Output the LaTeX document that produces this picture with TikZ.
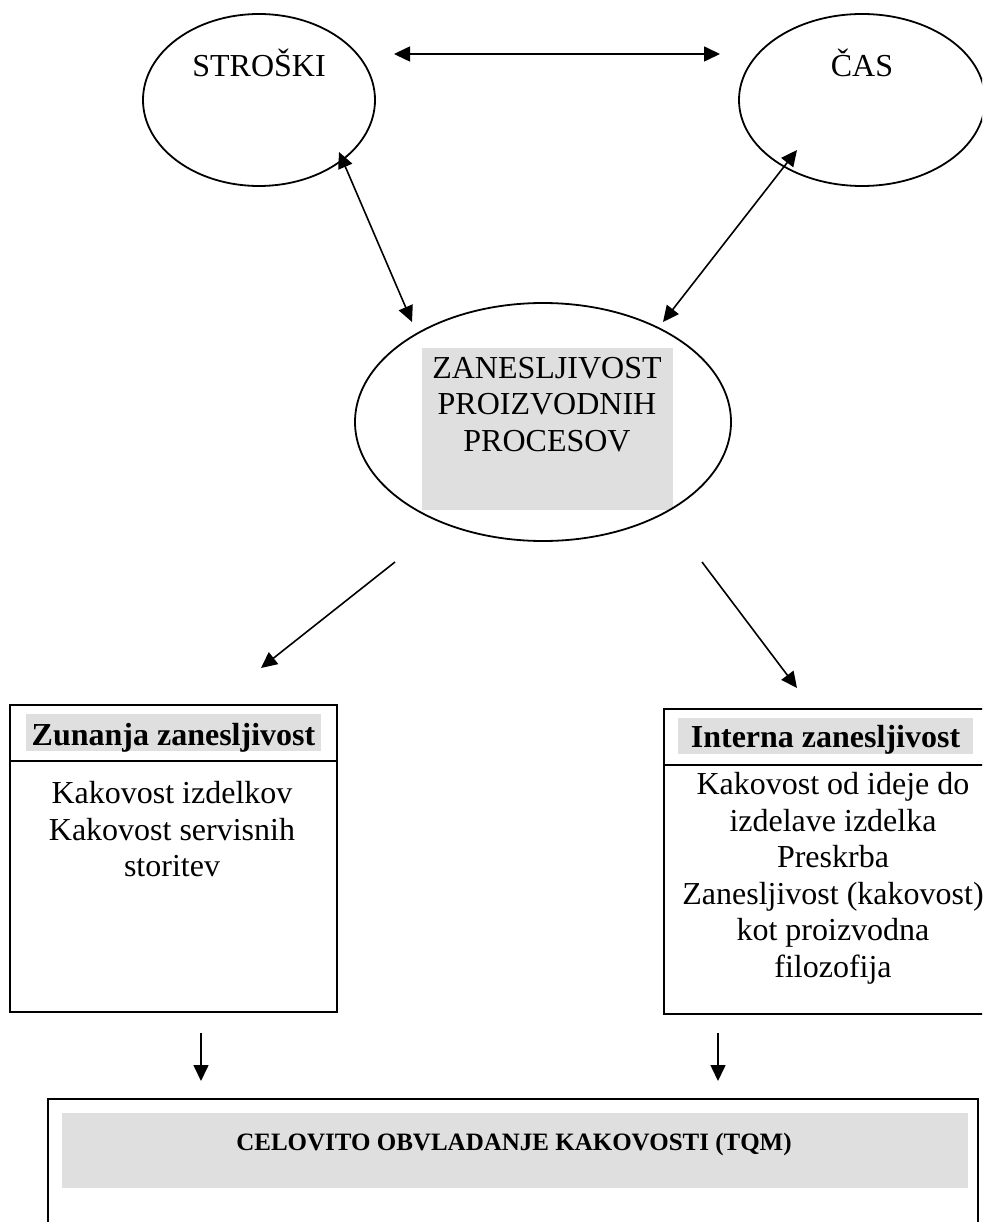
\documentclass[tikz,border=0pt]{standalone}
\usepackage{fontspec}
\setmainfont{Liberation Serif}
\usetikzlibrary{shapes.geometric,arrows.meta}
\definecolor{shade}{HTML}{DFDFDF}
\tikzset{
  oval/.style={draw, ellipse, line width=1.8pt, inner sep=0pt},
  txt/.style={font=\fontsize{32}{36.6}\selectfont, inner sep=0pt, align=center},
  headtxt/.style={font=\bfseries\fontsize{32}{37}\selectfont, inner sep=0pt, fill=shade},
  panel/.style={draw, line width=1.8pt, inner sep=0pt, anchor=north west},
  greybox/.style={fill=shade, inner sep=0pt, anchor=north west},
  tipA/.tip={Triangle[length=16pt,width=15pt]},
  conn/.style={line width=1.6pt, -tipA},
  dconn/.style={line width=1.6pt, tipA-tipA},
}
\begin{document}
\begin{tikzpicture}[x=1pt,y=-1pt]
\useasboundingbox (0,0) rectangle (982,1222);
\clip (0,0) rectangle (982,1222);

% top ellipses
\node[oval, minimum width=232pt, minimum height=172pt] (cost) at (259,100) {};
\node[txt, anchor=base] (costtxt) at (259,77) {STROŠKI};
\node[oval, minimum width=246pt, minimum height=172pt] (time) at (862,100) {};
\node[txt, anchor=base] (timetxt) at (862,77) {ČAS};

% central ellipse, drawn over its grey text panel
\node[greybox, minimum width=251pt, minimum height=162pt] (coregrey) at (422,348) {};
\node[oval, minimum width=376pt, minimum height=238pt] (core) at (543,422) {};
\node[txt, anchor=north] (coretxt) at (547,357) {ZANESLJIVOST\\PROIZVODNIH\\PROCESOV};

% left panel
\node[panel, minimum width=327pt, minimum height=307pt] (ext) at (9,704) {};
\draw[line width=1.8pt] (ext.west |- 0,761) -- (ext.east |- 0,761);
\node[headtxt, text height=31pt, text depth=6pt, minimum width=295pt, anchor=base] (exthead) at (173.5,745) {Zunanja zanesljivost};
\node[txt, anchor=north] (extbody) at (172,781) {Kakovost izdelkov\\Kakovost servisnih\\storitev};

% right panel
\node[panel, minimum width=340pt, minimum height=305pt] (int) at (663,708) {};
\draw[line width=1.8pt] (int.west |- 0,765) -- (int.east |- 0,765);
\node[headtxt, text height=29pt, text depth=7pt, minimum width=295pt, anchor=base] (inthead) at (825.5,747) {Interna zanesljivost\hspace{16pt}};
\node[txt, anchor=north] (intbody) at (833,772) {Kakovost od ideje do\\izdelave izdelka\\Preskrba\\Zanesljivost (kakovost)\\kot proizvodna\\filozofija};

% bottom panel
\node[panel, minimum width=930pt, minimum height=160pt] (tqm) at (47,1098) {};
\node[greybox, minimum width=906pt, minimum height=75pt] (tqmgrey) at (62,1113) {};
\node[font=\bfseries\fontsize{25}{28}\selectfont, inner sep=0pt, anchor=base] (tqmtxt) at (514,1150) {CELOVITO OBVLADANJE KAKOVOSTI (TQM)};

% connector end points
\coordinate (h1) at (394,54);
\coordinate (h2) at (720,54);
\coordinate (a1) at (339,152);
\coordinate (a2) at (412,322);
\coordinate (b1) at (797,150);
\coordinate (b2) at (663,322);
\coordinate (c1) at (395,562);
\coordinate (c2) at (261,668);
\coordinate (d1) at (702,562);
\coordinate (d2) at (797,688);
\coordinate (e1) at (201,1033);
\coordinate (e2) at (201,1081);
\coordinate (f1) at (718,1033);
\coordinate (f2) at (718,1081);

% connectors
\draw[dconn] (h1) -- (h2);
\draw[dconn] (a1) -- (a2);
\draw[dconn] (b1) -- (b2);
\draw[conn] (c1) -- (c2);
\draw[conn] (d1) -- (d2);
\draw[conn] (e1) -- (e2);
\draw[conn] (f1) -- (f2);
\end{tikzpicture}
\end{document}
